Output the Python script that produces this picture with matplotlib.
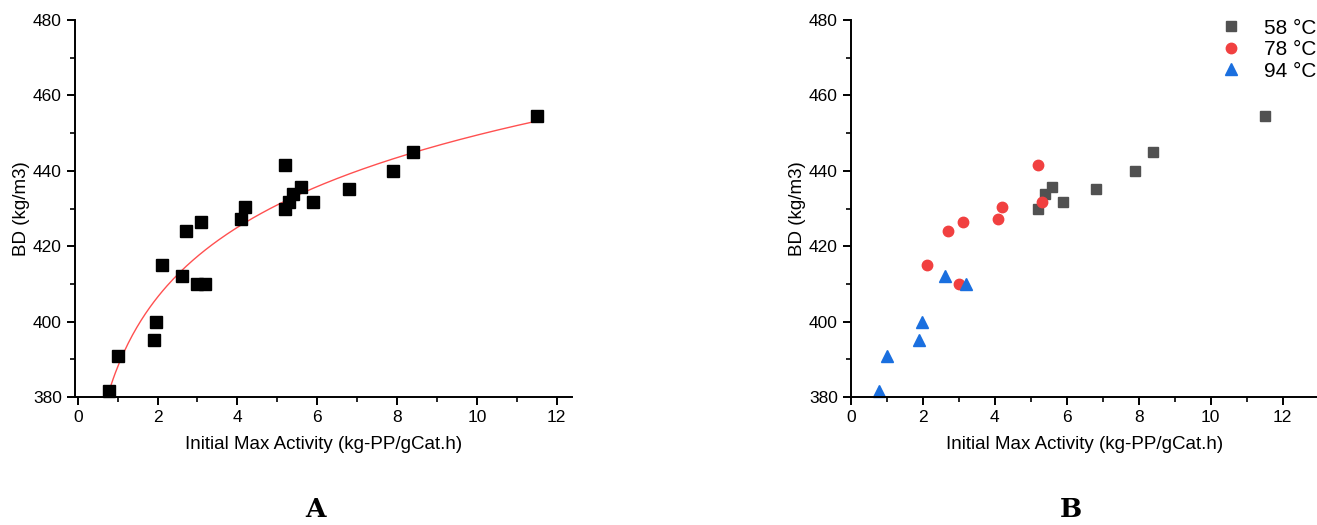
import numpy as np
import matplotlib.pyplot as plt

plt.rcParams['font.family'] = ['Liberation Sans', 'DejaVu Sans']

# BD vs. initial max activity, split by polymerisation temperature
act_58 = [5.2, 5.4, 5.6, 5.9, 6.8, 7.9, 8.4, 11.5]
bd_58 = [430.0, 433.9, 435.7, 431.7, 435.1, 440.0, 444.9, 454.6]

act_78 = [2.1, 2.7, 3.0, 3.1, 4.1, 4.2, 5.2, 5.3]
bd_78 = [415.0, 424.0, 410.0, 426.5, 427.1, 430.5, 441.6, 431.7]

act_94 = [0.78, 1.0, 1.9, 1.97, 2.6, 3.2]
bd_94 = [381.7, 391.0, 395.0, 400.0, 412.2, 410.0]

labels = ['58 °C', '78 °C', '94 °C']
colors = ['#515151', '#F14040', '#1A6FDF']
markers = ['s', 'o', '^']

act_all = np.array(act_58 + act_78 + act_94)
bd_all = np.array(bd_58 + bd_78 + bd_94)

# logarithmic fit  BD = a + b*ln(x)
b, a = np.polyfit(np.log(act_all), bd_all, 1)
xf = np.linspace(act_all.min(), act_all.max(), 200)
yf = a + b * np.log(xf)

fig = plt.figure(figsize=(13.17, 5.25), dpi=100)
ax1 = fig.add_axes([0.0569, 0.2438, 0.3774, 0.7181])
ax2 = fig.add_axes([0.6462, 0.2438, 0.3550, 0.7181])


def style(ax, xlim):
    ax.set_xlim(*xlim)
    ax.set_ylim(380, 480)
    ax.set_xticks(np.arange(0, 13, 2))
    ax.set_xticks(np.arange(1, 13, 2), minor=True)
    ax.set_yticks(np.arange(380, 481, 20))
    ax.set_yticks(np.arange(390, 480, 20), minor=True)
    ax.spines['top'].set_visible(False)
    ax.spines['right'].set_visible(False)
    for s in ('left', 'bottom'):
        ax.spines[s].set_linewidth(1.4)
    ax.tick_params(which='major', direction='out', length=6, width=1.4,
                   labelsize=12.5, color='black')
    ax.tick_params(which='minor', direction='out', length=3.5, width=1.2)
    ax.set_xlabel('Initial Max Activity (kg-PP/gCat.h)', fontsize=13.5, labelpad=8)
    ax.set_ylabel('BD (kg/m3)', fontsize=13.5, labelpad=2)


# A: all data with fitted curve
ax1.plot(xf, yf, color='#FF5050', lw=1.0, zorder=2)
ax1.plot(act_all, bd_all, 's', color='black', ms=9, zorder=3, clip_on=False)
style(ax1, (-0.07, 12.38))

# B: grouped by temperature
for xs, ys, lab, c, m in zip([act_58, act_78, act_94], [bd_58, bd_78, bd_94],
                             labels, colors, markers):
    ms = 8 if m == '^' else 7.5
    ax2.plot(xs, ys, m, color=c, ms=ms, label=lab, clip_on=False)
style(ax2, (0, 13))
ax2.legend(loc='upper right', bbox_to_anchor=(1.022, 1.037), frameon=False,
           fontsize=15, handletextpad=0.8, labelspacing=0.12,
           borderaxespad=0.2, handlelength=1.6)

fig.text(0.2399, 0.006, 'A', fontsize=19, fontweight='bold',
         family='DejaVu Serif', ha='center', va='bottom')
fig.text(0.8132, 0.006, 'B', fontsize=19, fontweight='bold',
         family='DejaVu Serif', ha='center', va='bottom')

fig.savefig('out.png', dpi=100)
